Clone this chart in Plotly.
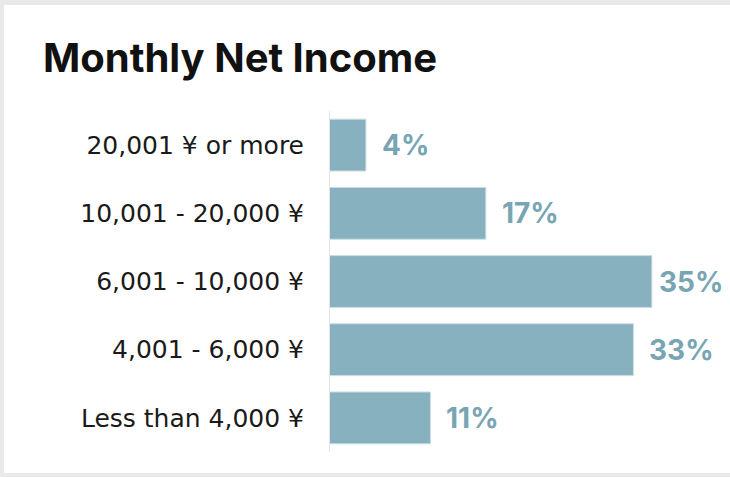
import plotly.graph_objects as go

# Survey data: share of respondents by monthly net income bracket
income_brackets = [
    "20,001 ¥ or more",
    "10,001 - 20,000 ¥",
    "6,001 - 10,000 ¥",
    "4,001 - 6,000 ¥",
    "Less than 4,000 ¥",
]
share_pct = [4, 17, 35, 33, 11]
share_labels = ["4%", "17%", "35%", "33%", "11%"]

W, H = 730, 477
M_L, M_R, M_T, M_B = 329, 8, 111, 25
X_MAX = 42.6

BAR_COLOR = "#88b1bf"
BAR_EDGE = "#c9dde4"
LABEL_COLOR = "#77a5b4"
CARD_BG = "#e9e9e9"

plot_w = W - M_L - M_R
plot_h = H - M_T - M_B


def px_to_paper_x(px):
    return (px - M_L) / plot_w


def px_to_paper_y(py):
    return 1 - (py - M_T) / plot_h


fig = go.Figure(
    go.Bar(
        x=share_pct,
        y=income_brackets,
        orientation="h",
        marker=dict(color=BAR_COLOR, line=dict(color=BAR_EDGE, width=1)),
        hoverinfo="skip",
    )
)

# Value labels to the right of each bar; labels that would run past the
# right edge are pulled back inside it.
label_w_est = 62
for val, cat, txt in zip(share_pct, income_brackets, share_labels):
    end_px = M_L + val / X_MAX * plot_w
    if end_px + 17 + label_w_est > W - M_R:
        fig.add_annotation(x=1, xref="paper", y=cat, yref="y", text=f"<b>{txt}</b>",
                           showarrow=False, xanchor="right", yanchor="middle", xshift=3,
                           font=dict(family="Inter", size=28, color=LABEL_COLOR))
    else:
        fig.add_annotation(x=val, xref="x", y=cat, yref="y", text=f"<b>{txt}</b>",
                           showarrow=False, xanchor="left", yanchor="middle", xshift=14,
                           font=dict(family="Inter", size=28, color=LABEL_COLOR))

# Card: grey page edges around a white panel
fig.add_shape(type="rect", xref="paper", yref="paper", layer="below",
              x0=px_to_paper_x(4), x1=px_to_paper_x(W + 5),
              y0=px_to_paper_y(473), y1=px_to_paper_y(5),
              fillcolor="white", line=dict(width=0))

# Baseline at x = 0
fig.add_shape(type="line", xref="x", yref="paper", x0=0, x1=0, y0=0, y1=1,
              line=dict(color="#e4e4e4", width=2))

fig.update_layout(
    width=W,
    height=H,
    margin=dict(l=M_L, r=M_R, t=M_T, b=M_B, pad=0),
    paper_bgcolor=CARD_BG,
    plot_bgcolor="rgba(0,0,0,0)",
    showlegend=False,
    bargap=0.24,
    title=dict(
        text="<b>Monthly Net Income</b>",
        x=43 / W, xref="container", xanchor="left",
        y=1 - 58 / H, yref="container", yanchor="middle",
        font=dict(family="Inter", size=40, color="#111111"),
    ),
    xaxis=dict(range=[0, X_MAX], visible=False, fixedrange=True),
    yaxis=dict(
        categoryorder="array",
        categoryarray=income_brackets,
        autorange="reversed",
        showgrid=False,
        zeroline=False,
        showline=False,
        ticks="",
        ticklabelstandoff=24,
        tickfont=dict(family="DejaVu Sans", size=25, color="#1a1a1a"),
        fixedrange=True,
    ),
)

fig.write_html("out.html")
